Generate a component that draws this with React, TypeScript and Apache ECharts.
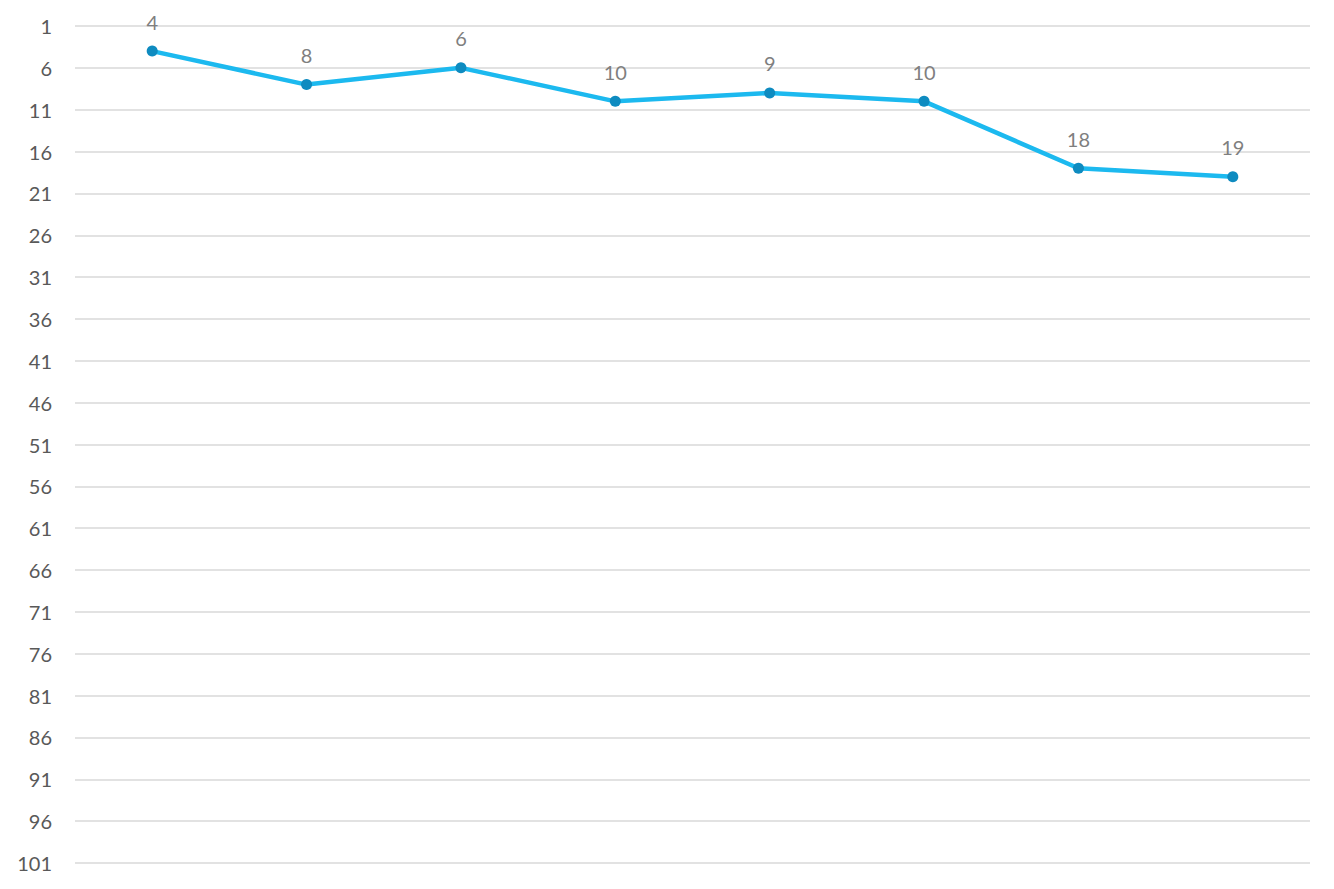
import React, { useEffect, useRef } from "react";
import * as echarts from "echarts";

const categories = ["1", "2", "3", "4", "5", "6", "7", "8"];
const ranks = [4, 8, 6, 10, 9, 10, 18, 19];
const axisMin = 1;
const axisMax = 101;
const axisStep = 5;

export default function App() {
  const ref = useRef<HTMLDivElement>(null);
  useEffect(() => {
    if (!ref.current) return;
    const chart = echarts.init(ref.current, null, { renderer: "svg" });
    chart.setOption({
      animation: false,
      backgroundColor: "#ffffff",
      grid: { left: 75, right: 24, top: 26, bottom: 26, containLabel: false },
      xAxis: {
        type: "category",
        data: categories,
        boundaryGap: true,
        axisLine: { show: false },
        axisTick: { show: false },
        axisLabel: { show: false },
        splitLine: { show: false },
      },
      yAxis: {
        type: "value",
        inverse: true,
        min: axisMin,
        max: axisMax,
        interval: axisStep,
        axisLine: { show: false },
        axisTick: { show: false },
        axisLabel: {
          color: "#595959",
          fontSize: 20,
          fontFamily: "Lato, 'Open Sans', sans-serif",
          margin: 23,
        },
        splitLine: { show: true, lineStyle: { color: "#d9d9d9", width: 1.5 } },
      },
      series: [
        {
          type: "line",
          data: ranks,
          symbol: "circle",
          symbolSize: 11,
          lineStyle: { color: "#1cb9ef", width: 4.5 },
          itemStyle: { color: "#0e8bc0" },
          label: {
            show: true,
            position: "top",
            distance: 14,
            color: "#7f7f7f",
            fontSize: 20,
            fontFamily: "Lato, 'Open Sans', sans-serif",
          },
        },
      ],
    });
    return () => chart.dispose();
  }, []);
  return (
    <div
      ref={ref}
      style={{ position: "fixed", left: 0, top: 0, width: 1334, height: 889 }}
    />
  );
}
